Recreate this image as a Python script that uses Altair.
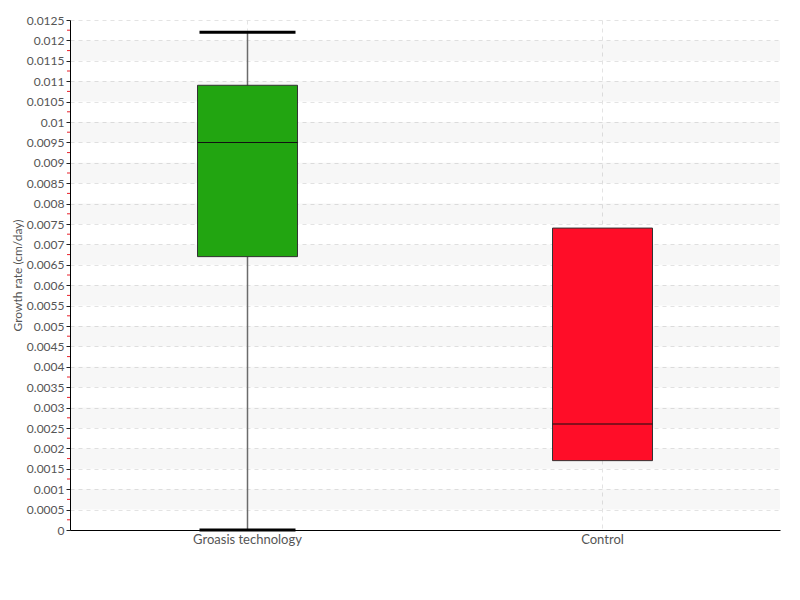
import altair as alt
import pandas as pd

categories = ["Groasis technology", "Control"]
whisker_low = [0.0, None]
whisker_high = [0.0122, None]
q1 = [0.0067, 0.0017]
median = [0.0095, 0.0026]
q3 = [0.0109, 0.0074]
fill_colors = ["#22a511", "#ff0d28"]

y_ticks = [0, 0.0005, 0.001, 0.0015, 0.002, 0.0025, 0.003, 0.0035, 0.004, 0.0045,
           0.005, 0.0055, 0.006, 0.0065, 0.007, 0.0075, 0.008, 0.0085, 0.009, 0.0095,
           0.01, 0.0105, 0.011, 0.0115, 0.012, 0.0125]
minor_ticks = [0.00025, 0.00075, 0.00125, 0.00175, 0.00225, 0.00275, 0.00325, 0.00375,
               0.00425, 0.00475, 0.00525, 0.00575, 0.00625, 0.00675, 0.00725, 0.00775,
               0.00825, 0.00875, 0.00925, 0.00975, 0.01025, 0.01075, 0.01125, 0.01175,
               0.01225]
band_low = [0.0005, 0.0015, 0.0025, 0.0035, 0.0045, 0.0055, 0.0065, 0.0075, 0.0085,
            0.0095, 0.0105, 0.0115]
band_high = [0.001, 0.002, 0.003, 0.004, 0.005, 0.006, 0.007, 0.008, 0.009, 0.01,
             0.011, 0.012]

FONT = "Lato, Roboto, sans-serif"
W, H = 710, 510

box_df = pd.DataFrame({"cat": categories, "q1": q1, "median": median, "q3": q3,
                       "color": fill_colors})
wh_df = pd.DataFrame({"cat": categories, "lo": whisker_low, "hi": whisker_high}).dropna()
band_df = pd.DataFrame({"lo": band_low, "hi": band_high})
minor_df = pd.DataFrame({"v": minor_ticks})

yscale = alt.Scale(domain=[0, 0.0125], nice=False, zero=True)
xscale = alt.Scale(domain=categories, paddingInner=0, paddingOuter=0)

x_axis = alt.Axis(title=None, labelAngle=0)
y_axis = alt.Axis(title="Growth rate (cm/day)", values=y_ticks, format="~g",
                  labelOverlap=False, labelBound=False, labelFlush=False)


def Y(field):
    return alt.Y(field, type="quantitative", scale=yscale, axis=y_axis)


def X():
    return alt.X("cat:N", scale=xscale, axis=x_axis, sort=categories)


bands = alt.Chart(band_df).mark_rect(color="#000", opacity=0.03).encode(
    x=alt.value(0), x2=alt.value(W), y=Y("lo"), y2="hi:Q")

minor = alt.Chart(minor_df).mark_rule(color="#e8202a", strokeWidth=1).encode(
    x=alt.value(-3), x2=alt.value(0), y=Y("v"))

whisk = alt.Chart(wh_df).mark_rule(color="#6b6b6b", strokeWidth=1.5).encode(
    x=X(), y=Y("lo"), y2="hi:Q")

cap_hi = alt.Chart(wh_df).mark_tick(color="#000", size=96, thickness=3, opacity=1).encode(
    x=X(), y=Y("hi"))
cap_lo = alt.Chart(wh_df).mark_tick(color="#000", size=96, thickness=3, opacity=1).encode(
    x=X(), y=Y("lo"))

boxes = alt.Chart(box_df).mark_bar(size=100, stroke="#333", strokeWidth=1).encode(
    x=X(), y=Y("q1"), y2="q3:Q", color=alt.Color("color:N", scale=None))

med = alt.Chart(box_df).mark_tick(color="#111", size=100, thickness=1, opacity=1).encode(
    x=X(), y=Y("median"))

chart = alt.layer(bands, minor, whisk, boxes, med, cap_hi, cap_lo).properties(
    width=W, height=H,
    autosize=alt.AutoSizeParams(type="none"),
    padding={"left": 62, "top": 12, "right": 12, "bottom": 62},
).configure(
    background="white", view={"stroke": None},
    axisX={"labelFont": FONT, "labelFontSize": 13, "labelColor": "#555",
           "labelPadding": 3, "ticks": False, "domainColor": "#000", "domainWidth": 1,
           "grid": True, "gridDash": [4, 4], "gridColor": "#e3e3e3"},
    axisY={"titleFont": FONT, "titleFontSize": 12, "titleFontWeight": "normal",
           "titleColor": "#555", "titlePadding": 2, "labelFont": FONT,
           "labelFontSize": 12, "labelColor": "#555", "labelPadding": 2,
           "tickSize": 4, "tickColor": "#222", "labelOverlap": False,
           "domainColor": "#000", "domainWidth": 1, "grid": True,
           "gridDash": [4, 4], "gridColor": "#e3e3e3"},
)

chart.save("out.html", embed_options={"renderer": "svg", "actions": False})
